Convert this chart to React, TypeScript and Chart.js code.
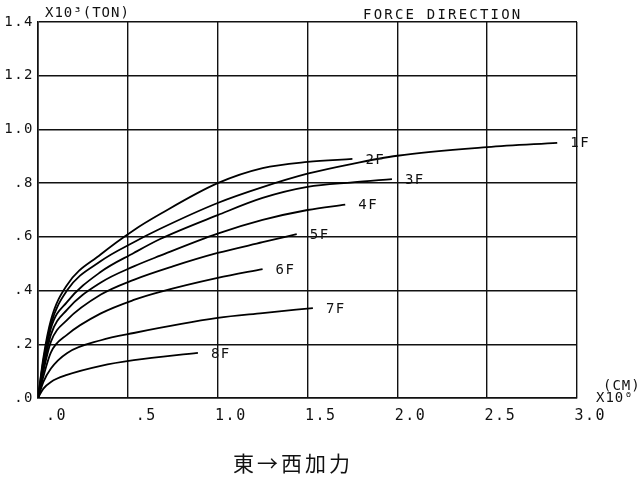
import React, { useEffect, useRef } from "react";
import { Chart, registerables } from "chart.js";

Chart.register(...registerables);

// ---- data (displacement x10^0 cm, force x10^3 ton) ----
const CURVE_LABELS = ["1F", "2F", "3F", "4F", "5F", "6F", "7F", "8F"];

const X_1F = [0, 0.03, 0.072, 0.161, 0.35, 0.533, 0.68, 1.0, 1.25, 1.5, 1.75, 2.0, 2.5, 2.89];
const Y_1F = [0, 0.14, 0.275, 0.4, 0.51, 0.58, 0.63, 0.726, 0.785, 0.835, 0.872, 0.902, 0.934, 0.95];

const X_2F = [0, 0.03, 0.072, 0.161, 0.35, 0.533, 0.68, 1.0, 1.25, 1.5, 1.75];
const Y_2F = [0, 0.15, 0.29, 0.42, 0.535, 0.625, 0.685, 0.8, 0.856, 0.879, 0.89];

const X_3F = [0, 0.03, 0.072, 0.161, 0.35, 0.533, 0.68, 1.0, 1.25, 1.5, 1.75, 1.97];
const Y_3F = [0, 0.12, 0.26, 0.357, 0.47, 0.54, 0.592, 0.681, 0.745, 0.786, 0.803, 0.815];

const X_4F = [0, 0.03, 0.072, 0.161, 0.35, 0.533, 0.68, 1.0, 1.25, 1.5, 1.71];
const Y_4F = [0, 0.11, 0.236, 0.328, 0.43, 0.49, 0.53, 0.612, 0.663, 0.7, 0.72];

const X_5F = [0, 0.03, 0.072, 0.161, 0.35, 0.533, 0.75, 1.0, 1.25, 1.44];
const Y_5F = [0, 0.1, 0.21, 0.29, 0.385, 0.44, 0.49, 0.54, 0.58, 0.61];

const X_6F = [0, 0.03, 0.072, 0.161, 0.35, 0.533, 0.68, 1.0, 1.25];
const Y_6F = [0, 0.08, 0.17, 0.235, 0.315, 0.365, 0.395, 0.447, 0.48];

const X_7F = [0, 0.03, 0.072, 0.161, 0.35, 0.533, 1.0, 1.25, 1.53];
const Y_7F = [0, 0.06, 0.11, 0.167, 0.215, 0.242, 0.298, 0.316, 0.335];

const X_8F = [0, 0.03, 0.072, 0.161, 0.35, 0.533, 0.89];
const Y_8F = [0, 0.035, 0.06, 0.086, 0.12, 0.141, 0.168];

const SERIES_X = [X_1F, X_2F, X_3F, X_4F, X_5F, X_6F, X_7F, X_8F];
const SERIES_Y = [Y_1F, Y_2F, Y_3F, Y_4F, Y_5F, Y_6F, Y_7F, Y_8F];

const X_MIN = 0;
const X_MAX = 3.0;
const X_STEP = 0.5;
const Y_MIN = 0;
const Y_MAX = 1.4;
const Y_STEP = 0.2;

const Y_TITLE = "X10³(TON)";
const TOP_RIGHT_TITLE = "FORCE DIRECTION";
const X_UNIT = "(CM)";
const X_SCALE = "X10⁰";
const CAPTION = "東→西加力";

const MONO = '"DejaVu Sans Mono", "Liberation Mono", monospace';
const INK = "#111";

function fmtTick(v: number): string {
  const s = Number(v).toFixed(1);
  return s.startsWith("0") ? s.slice(1) : s;
}

const textPlugin = {
  id: "textPlugin",
  beforeDraw(chart: any) {
    const ctx = chart.ctx;
    ctx.save();
    ctx.fillStyle = "#fff";
    ctx.fillRect(0, 0, chart.width, chart.height);
    ctx.restore();
    (ctx as any).letterSpacing = "1.5px";
  },
  afterDraw(chart: any) {
    const ctx = chart.ctx;
    ctx.save();
    (ctx as any).letterSpacing = "1.5px";
    ctx.fillStyle = INK;
    ctx.font = `14px ${MONO}`;
    ctx.textBaseline = "middle";
    ctx.textAlign = "left";
    chart.data.datasets.forEach((ds: any, i: number) => {
      const meta = chart.getDatasetMeta(i);
      const pts = meta.data;
      const last = pts[pts.length - 1];
      if (!last) return;
      ctx.fillText(ds.label, last.x + 13, last.y + 1);
    });
    ctx.font = `14px ${MONO}`;
    (ctx as any).letterSpacing = "1px";
    ctx.fillText(Y_TITLE, 45, 13);
    (ctx as any).letterSpacing = "2.2px";
    ctx.fillText(TOP_RIGHT_TITLE, 363, 15);
    (ctx as any).letterSpacing = "1px";
    ctx.fillText(X_UNIT, 603, 386);
    ctx.fillText(X_SCALE, 596, 398);
    (ctx as any).letterSpacing = "3px";
    ctx.font = `21px "Noto Sans CJK TC", "Noto Sans CJK JP", sans-serif`;
    ctx.textAlign = "center";
    ctx.fillText(CAPTION, 293, 463);
    ctx.restore();
  },
};

export default function App() {
  const ref = useRef<HTMLCanvasElement | null>(null);

  useEffect(() => {
    if (!ref.current) return;
    const datasets = CURVE_LABELS.map((label, i) => ({
      label,
      data: SERIES_X[i].map((x, j) => ({ x, y: SERIES_Y[i][j] })),
      borderColor: "#000",
      borderWidth: 1.8,
      pointRadius: 0,
      showLine: true,
      fill: false,
      cubicInterpolationMode: "monotone" as const,
    }));

    const chart = new Chart(ref.current, {
      type: "scatter",
      data: { datasets },
      options: {
        responsive: false,
        animation: false,
        devicePixelRatio: 1,
        layout: { padding: { left: 0, top: 22, right: 63, bottom: 0 } },
        plugins: {
          legend: { display: false },
          tooltip: { enabled: false },
          title: { display: false },
        },
        scales: {
          x: {
            type: "linear",
            min: X_MIN,
            max: X_MAX,
            afterFit: (s: any) => {
              s.height = 83;
            },
            ticks: {
              stepSize: X_STEP,
              align: "end",
              labelOffset: 29,
              padding: 9,
              color: INK,
              font: { family: MONO, size: 15 },
              callback: (v: any) => fmtTick(v),
            },
            grid: { color: INK, lineWidth: 1.4, drawTicks: false },
            border: { color: INK, width: 1.6 },
          },
          y: {
            type: "linear",
            min: Y_MIN,
            max: Y_MAX,
            afterFit: (s: any) => {
              s.width = 38;
            },
            ticks: {
              stepSize: Y_STEP,
              padding: 4,
              color: INK,
              font: { family: MONO, size: 14 },
              callback: (v: any) => fmtTick(v),
            },
            grid: { color: INK, lineWidth: 1.4, drawTicks: false },
            border: { color: INK, width: 1.6 },
          },
        },
      },
      plugins: [textPlugin],
    });
    return () => chart.destroy();
  }, []);

  return (
    <div style={{ position: "absolute", left: 0, top: 0, width: 640, height: 481, background: "#fff" }}>
      <canvas ref={ref} width={640} height={481} style={{ display: "block" }} />
    </div>
  );
}
